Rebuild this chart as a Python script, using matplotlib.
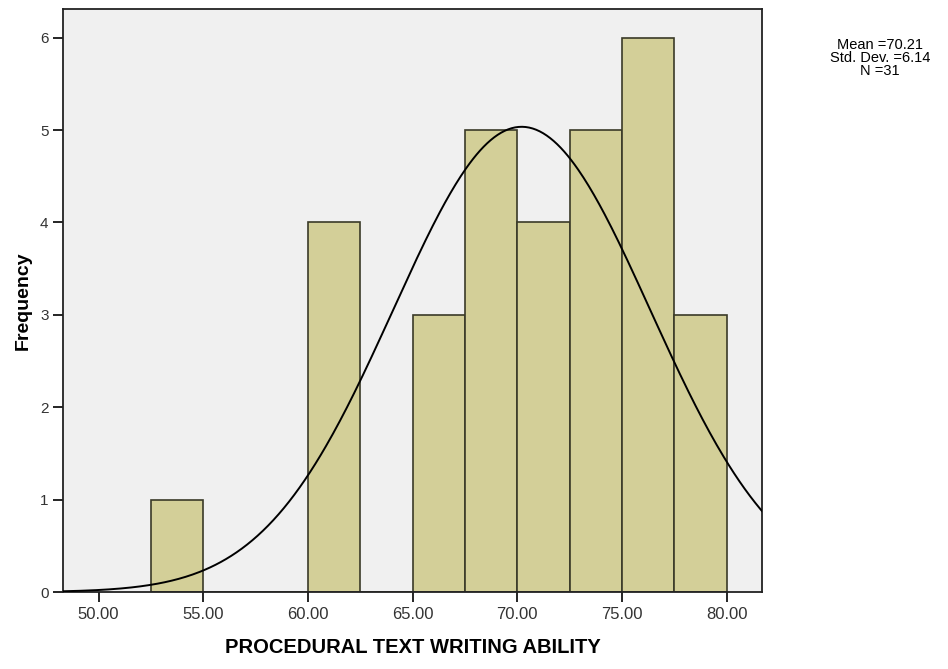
import numpy as np
import matplotlib
matplotlib.use('Agg')
import matplotlib.pyplot as plt

plt.rcParams['font.family'] = ['Liberation Sans', 'DejaVu Sans']

# histogram bins (lower edges) and counts
bin_edges = [52.5, 55.0, 57.5, 60.0, 62.5, 65.0, 67.5, 70.0, 72.5, 75.0, 77.5, 80.0]
counts = [1, 0, 0, 4, 0, 3, 5, 4, 5, 6, 3]
mean = 70.21
sd = 6.14
n = 31
xticks = [50, 55, 60, 65, 70, 75, 80]
yticks = [0, 1, 2, 3, 4, 5, 6]

fig = plt.figure(figsize=(9.48, 6.69), dpi=100)
ax = fig.add_axes([0.0665, 0.115, 0.7375, 0.8715])
ax.set_facecolor('#F0F0F0')

width = bin_edges[1] - bin_edges[0]
ax.bar(bin_edges[:-1], counts, width=width, align='edge',
       color='#D3CF98', edgecolor='#3a3a28', linewidth=1.2, zorder=2)

# normal curve
xs = np.linspace(48.3, 81.7, 400)
ys = n * width / (sd * np.sqrt(2 * np.pi)) * np.exp(-0.5 * ((xs - mean) / sd) ** 2)
ax.plot(xs, ys, color='black', linewidth=1.4, zorder=3)

ax.set_xlim(48.3, 81.7)
ax.set_ylim(0, 6.31)
ax.set_xticks(xticks)
ax.set_xticklabels(['%.2f' % t for t in xticks], fontsize=12, color='#333333')
ax.set_yticks(yticks)
ax.set_yticklabels([str(t) for t in yticks], fontsize=11, color='#333333')
ax.tick_params(direction='out', length=7, width=1.2)
for s in ax.spines.values():
    s.set_linewidth(1.3)
    s.set_color('#222222')

ax.set_xlabel('PROCEDURAL TEXT WRITING ABILITY', fontsize=14.5, fontweight='bold', labelpad=12)
ax.set_ylabel('Frequency', fontsize=14, fontweight='bold', labelpad=6)

fig.text(0.928, 0.913, 'Mean =%.2f\nStd. Dev. =%.2f\nN =%d' % (mean, sd, n),
         ha='center', va='center', fontsize=10.5, linespacing=0.9)

fig.savefig('out.png', dpi=100)
